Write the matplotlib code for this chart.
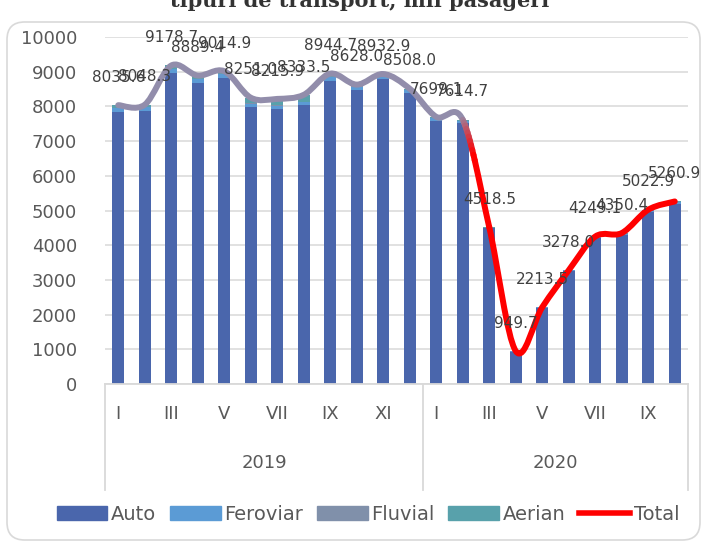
import numpy as np
import matplotlib
matplotlib.use("Agg")
import matplotlib.pyplot as plt
import matplotlib.colors as mcolors
from matplotlib.path import Path
from matplotlib.patches import PathPatch, FancyBboxPatch, Patch
from matplotlib.lines import Line2D
from matplotlib.bezier import split_de_casteljau
from matplotlib.transforms import blended_transform_factory

# months: 12 for 2019, 10 for 2020
months = ["I", "II", "III", "IV", "V", "VI", "VII", "VIII", "IX", "X", "XI", "XII",
          "I", "II", "III", "IV", "V", "VI", "VII", "VIII", "IX", "X"]
years = ["2019", "2020"]
months_per_year = [12, 10]

# passengers by transport type, thousands
auto = [7830, 7860, 8950, 8665, 8810, 7990, 7925, 8040, 8730, 8470, 8790, 8375,
        7580, 7510, 4490, 930, 2195, 3260, 4220, 4290, 4960, 5200]
feroviar = [120, 115, 130, 125, 110, 90, 95, 95, 105, 100, 95, 90,
            80, 75, 15, 17, 16, 15, 20, 45, 48, 47]
fluvial = [5, 5, 5, 5, 5, 6, 6, 6, 5, 4, 3, 3,
           3, 2, 1, 0.5, 0.5, 1, 1, 1, 1, 1]
aerian = [80, 68, 94, 94, 90, 165, 190, 192, 105, 54, 45, 40,
          36, 28, 12.5, 2.2, 2, 2, 8, 14, 14, 13]
total = [8035.6, 8048.3, 9178.7, 8889.4, 9014.9, 8251.0, 8215.9, 8333.5, 8944.7, 8628.0, 8932.9, 8508.0,
         7699.1, 7614.7, 4518.5, 949.7, 2213.5, 3278.0, 4249.1, 4350.4, 5022.9, 5260.9]

c_auto = "#4a66ac"
c_fer = "#5b9bd5"
c_flu = "#8090aa"
c_aer = "#58a1ab"
c_line_gray = "#928dab"
c_red = "#ff0000"
txt = "#595959"

W, H = 706, 542
fig = plt.figure(figsize=(W / 100, H / 100), dpi=100)

# chart area border
border = FancyBboxPatch((7 / W, 2 / H), 693 / W, 518 / H,
                        boxstyle="round,pad=0,rounding_size=0.025",
                        mutation_aspect=W / H,
                        transform=fig.transFigure, facecolor="none",
                        edgecolor="#d9d9d9", linewidth=1.2, zorder=-5)
fig.patches.append(border)

fig.text(0.51, 1 - 7 / H, "tipuri de transport, mii pasageri", ha="center", va="baseline",
         fontsize=15, fontweight="bold", family="DejaVu Serif", color="#333333")

ax = fig.add_axes([105 / W, (H - 384) / H, 583 / W, 347 / H])
ax.patch.set_alpha(0)

x = np.arange(len(months))
bw = 0.47
bottom = np.zeros(len(x))
for vals, col, name in [(auto, c_auto, "Auto"), (feroviar, c_fer, "Feroviar"),
                        (fluvial, c_flu, "Fluvial"), (aerian, c_aer, "Aerian")]:
    ax.bar(x, vals, bw, bottom=bottom, color=col, zorder=2, label=name)
    bottom += np.array(vals)

# smooth total line (Catmull-Rom style bezier segments)
pts = np.column_stack([x, total]).astype(float)
n = len(pts)
segs = []
for i in range(n - 1):
    p0 = pts[max(i - 1, 0)]
    p1 = pts[i]
    p2 = pts[i + 1]
    p3 = pts[min(i + 2, n - 1)]
    c1 = p1 + (p2 - p0) / 6
    c2 = p2 - (p3 - p1) / 6
    segs.append(np.array([p1, c1, c2, p2]))


def draw_segs(seg_list, color):
    verts = [seg_list[0][0]]
    codes = [Path.MOVETO]
    for s in seg_list:
        verts += [s[1], s[2], s[3]]
        codes += [Path.CURVE4] * 3
    ax.add_patch(PathPatch(Path(verts, codes), facecolor="none", edgecolor=color,
                           linewidth=4.3, capstyle="round", joinstyle="round", zorder=4))


switch = 13  # colour changes after 2020 II
draw_segs(segs[:switch], c_line_gray)
draw_segs(segs[switch + 1:], c_red)

# gradient on the transition segment
g0 = np.array(mcolors.to_rgb(c_line_gray))
g1 = np.array(mcolors.to_rgb(c_red))
steps = 10
t_end = 0.45
rest = segs[switch]
t_prev = 0.0
for k in range(1, steps + 1):
    t = t_end * k / steps
    rel = (t - t_prev) / (1 - t_prev)
    left, right = split_de_casteljau(rest, rel)
    col = g0 + (g1 - g0) * (k / steps)
    draw_segs([np.array(left)], tuple(col))
    rest = np.array(right)
    t_prev = t
draw_segs([rest], c_red)

for i, v in enumerate(total):
    ax.annotate(f"{v:.1f}", (i, v), xytext=(0, 20), textcoords="offset points",
                ha="center", va="center", fontsize=11, color="#404040", zorder=5)

ax.set_xlim(-0.5, len(x) - 0.5)
ax.set_ylim(0, 10000)
ax.set_yticks(np.arange(0, 10001, 1000))
ax.yaxis.grid(True, color="#d9d9d9", linewidth=1.1, zorder=0)
ax.set_axisbelow(True)
for s in ax.spines.values():
    s.set_visible(False)
ax.tick_params(axis="y", length=0, pad=20, labelsize=13, labelcolor=txt)

ax.set_xticks(x)
ax.set_xticklabels([m if i % 2 == 0 else "" for i, m in enumerate(months)])
ax.tick_params(axis="x", length=0, pad=15, labelsize=13, labelcolor=txt)

# category axis lines
trans = blended_transform_factory(ax.transData, ax.transAxes)
ax.plot([-0.5, len(x) - 0.5], [0, 0], color="#d9d9d9", lw=1.3, transform=trans, clip_on=False, zorder=3)
edges = np.concatenate([[0], np.cumsum(months_per_year)]) - 0.5
line_bottom = (384 - 490) / 347
for e in edges:
    ax.plot([e, e], [0, line_bottom], color="#d9d9d9", lw=1.3, transform=trans, clip_on=False)
for k, yr in enumerate(years):
    ax.text((edges[k] + edges[k + 1]) / 2, (384 - 463) / 347, yr, transform=trans,
            ha="center", va="center", fontsize=13, color=txt)

handles = [Patch(color=c_auto), Patch(color=c_fer), Patch(color=c_flu), Patch(color=c_aer),
           Line2D([0], [0], color=c_red, lw=4)]
fig.legend(handles, ["Auto", "Feroviar", "Fluvial", "Aerian", "Total"], ncol=5,
           loc="center", bbox_to_anchor=(368 / W, 1 - 514 / H), frameon=False,
           fontsize=14, labelcolor=txt, handlelength=2.6, handletextpad=0.2,
           columnspacing=0.7, handleheight=0.75)

fig.savefig("out.png", dpi=100)
